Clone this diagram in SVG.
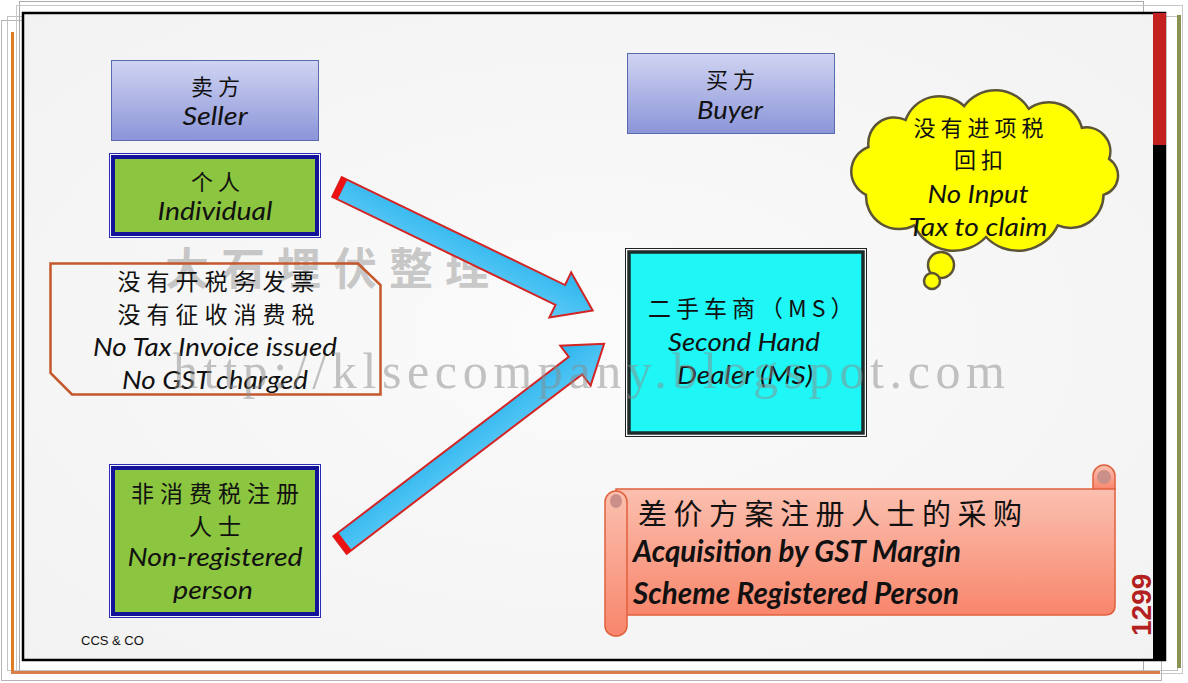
<svg xmlns="http://www.w3.org/2000/svg" width="1188" height="683" viewBox="0 0 1188 683">
<defs>
  <linearGradient id="gHead" x1="0" y1="0" x2="0" y2="1">
    <stop offset="0" stop-color="#d0d4f2"/>
    <stop offset="1" stop-color="#8b95d8"/>
  </linearGradient>
  <linearGradient id="gScroll" x1="0" y1="0" x2="0" y2="1">
    <stop offset="0" stop-color="#fbc0b0"/>
    <stop offset="1" stop-color="#f8866c"/>
  </linearGradient>
  <linearGradient id="gArrow" x1="0" y1="0" x2="0" y2="1">
    <stop offset="0" stop-color="#2cb4ee"/>
    <stop offset="1" stop-color="#5ecbf6"/>
  </linearGradient>
  <radialGradient id="gBg" cx="0.5" cy="0.5" r="0.7">
    <stop offset="0" stop-color="#fbfbfb"/>
    <stop offset="1" stop-color="#f2f2f2"/>
  </radialGradient>
  <style>
    .cjk { font-family: "Noto Sans CJK SC", sans-serif; fill: #111; letter-spacing: 5px; }
    .cjk6 { letter-spacing: 6px; }
    .cjk8 { letter-spacing: 6.5px; }
    .en { font-family: "Lato", "Liberation Sans", sans-serif; font-style: italic; fill: #111; font-size: 26px; }
    .big { font-size: 30px; font-weight: bold; }
    .mid { text-anchor: middle; }
    .head { fill: url(#gHead); stroke: #5a6ab0; stroke-width: 1; }
    .gOut { fill: none; stroke: #2a2ab8; stroke-width: 1; }
    .gIn { fill: #8cc53f; stroke: #12129a; stroke-width: 4; }
    .arrow { fill: url(#gArrow); stroke: #d42424; stroke-width: 2; stroke-linejoin: miter; }
    .cap { fill: #ee1111; }
    .roll { fill: url(#gScroll); stroke: #e0603c; stroke-width: 1.5; }
  </style>
</defs>

<!-- page frames -->
<rect x="0" y="0" width="1188" height="683" fill="#ffffff"/>
<rect x="1.5" y="20.5" width="1160" height="660" fill="none" stroke="#b4b4b4" stroke-width="1"/>
<rect x="7.5" y="16.5" width="1170" height="654" fill="none" stroke="#c2c2c2" stroke-width="1"/>
<rect x="19.5" y="1.5" width="1124" height="670" fill="none" stroke="#aaaaaa" stroke-width="1"/>
<rect x="16.5" y="5.5" width="1166" height="668" fill="none" stroke="#c8c8c8" stroke-width="1"/>
<line x1="12.5" y1="32" x2="12.5" y2="673" stroke="#e07b22" stroke-width="3"/>
<line x1="11" y1="672.5" x2="1160" y2="672.5" stroke="#d9804a" stroke-width="3"/>
<line x1="1179" y1="15" x2="1179" y2="668" stroke="#8a9152" stroke-width="4"/>
<rect x="23" y="13" width="1142" height="647" fill="url(#gBg)" stroke="#000" stroke-width="2.5"/>
<rect x="1153" y="13" width="13" height="647" fill="#000"/>
<rect x="1153" y="13" width="13" height="132" fill="#c4201f"/>

<!-- watermark (Chinese) -->
<text x="165" y="285" font-family="Noto Sans CJK SC, sans-serif" font-size="44" letter-spacing="12" fill="#8a8a8a" fill-opacity="0.45" font-weight="bold">大石埋伏整理</text>

<!-- connectors -->
<g id="connectors">
  <g transform="translate(337,187) rotate(25.8)">
    <polygon class="arrow" points="0,-11 248,-11 248,-25 284,0 248,25 248,11 0,11"/>
    <rect class="cap" x="0" y="-11" width="6" height="22"/>
  </g>
  <g transform="translate(340,545) rotate(-37.3)">
    <polygon class="arrow" points="0,-11 296,-11 296,-25 332,0 296,25 296,11 0,11"/>
    <rect class="cap" x="0" y="-11" width="6" height="22"/>
  </g>
</g>

<!-- nodes -->
<g id="seller">
  <rect class="head" x="111.5" y="60.5" width="207" height="80"/>
  <text class="cjk mid" x="218" y="95" font-size="22">卖方</text>
  <text class="en mid" x="215" y="125" textLength="65" lengthAdjust="spacingAndGlyphs">Seller</text>
</g>

<g id="individual">
  <rect class="gOut" x="109.5" y="153.5" width="211" height="84"/>
  <rect class="gIn" x="113" y="157" width="204" height="77"/>
  <text class="cjk mid" x="218" y="190" font-size="22">个人</text>
  <text class="en mid" x="215" y="220" textLength="115" lengthAdjust="spacingAndGlyphs">Individual</text>
</g>

<g id="note">
  <path d="M50.5,263.5 H358 L380.5,285 V394.5 H72 L50.5,373 Z" fill="none" stroke="#c4582c" stroke-width="2.5"/>
  <text class="cjk cjk6 mid" x="219" y="290" font-size="23">没有开税务发票</text>
  <text class="cjk cjk6 mid" x="219" y="323" font-size="23">没有征收消费税</text>
  <text class="en mid" x="215" y="356" textLength="244" lengthAdjust="spacingAndGlyphs">No Tax Invoice issued</text>
  <text class="en mid" x="215" y="389" textLength="186" lengthAdjust="spacingAndGlyphs">No GST charged</text>
</g>

<g id="nonregistered">
  <rect class="gOut" x="109.5" y="464.5" width="211" height="153"/>
  <rect class="gIn" x="113" y="468" width="204" height="146"/>
  <text class="cjk cjk6 mid" x="218" y="502" font-size="23">非消费税注册</text>
  <text class="cjk cjk6 mid" x="218" y="535" font-size="23">人士</text>
  <text class="en mid" x="215" y="566" textLength="175" lengthAdjust="spacingAndGlyphs">Non-registered</text>
  <text class="en mid" x="213" y="599" textLength="80" lengthAdjust="spacingAndGlyphs">person</text>
</g>

<g id="buyer">
  <rect class="head" x="627.5" y="53.5" width="207" height="80"/>
  <text class="cjk mid" x="733" y="88" font-size="22">买方</text>
  <text class="en mid" x="730" y="119" textLength="66" lengthAdjust="spacingAndGlyphs">Buyer</text>
</g>

<g id="dealer">
  <rect x="625.5" y="248.5" width="241" height="188" fill="none" stroke="#222" stroke-width="1"/>
  <rect x="629" y="252" width="234" height="181" fill="#1ff6f6" stroke="#1d2b2b" stroke-width="3.5"/>
  <text class="cjk" x="648" y="317" font-size="23">二手车商（MS）</text>
  <text class="en mid" x="744" y="351" textLength="152" lengthAdjust="spacingAndGlyphs">Second Hand</text>
  <text class="en mid" x="745" y="384" textLength="136" lengthAdjust="spacingAndGlyphs">Dealer (MS)</text>
</g>

<g id="cloud">
  <path d="M868.5,147 A26,26 0 0 1 905.6,120 A36,36 0 0 1 964.2,106 A39,39 0 0 1 1028.8,108.8 A34,34 0 0 1 1081.8,127.8 A24,24 0 0 1 1109.1,159 A20,20 0 0 1 1103.5,194.9 A33,33 0 0 1 1057.8,225.4 A44,44 0 0 1 986,237 A44,44 0 0 1 914.2,225.4 A33,33 0 0 1 866,194.9 A26,26 0 0 1 868.5,147 Z" fill="#ffff00" stroke="#5c5436" stroke-width="2.5"/>
  <circle cx="941" cy="265" r="13" fill="#ffff00" stroke="#5c5436" stroke-width="2.5"/>
  <circle cx="932" cy="281" r="8" fill="#ffff00" stroke="#5c5436" stroke-width="2.5"/>
  <text class="cjk mid" x="981" y="136" font-size="22">没有进项税</text>
  <text class="cjk mid" x="981" y="168" font-size="22">回扣</text>
  <text class="en mid" x="978" y="203" textLength="101" lengthAdjust="spacingAndGlyphs">No Input</text>
  <text class="en mid" x="978" y="236" textLength="139" lengthAdjust="spacingAndGlyphs">Tax to claim</text>
</g>

<g id="scroll">
  <path class="roll" d="M1093,490 V476 A11,11 0 0 1 1115,476 V490"/>
  <circle cx="1104" cy="477" r="7" fill="#c98f88"/>
  <path class="roll" d="M616,489 H1115 V605 Q1115,615 1105,615 H616 Z"/>
  <path class="roll" d="M605,502 A11,11 0 0 1 627,502 V626 A11,10 0 0 1 605,626 Z"/>
  <ellipse cx="616" cy="501" rx="6" ry="7" fill="#c98f88"/>
  <text class="cjk cjk8" x="638" y="525" font-size="29">差价方案注册人士的采购</text>
  <text class="en big" x="633" y="562" textLength="328" lengthAdjust="spacingAndGlyphs">Acquisition by GST Margin</text>
  <text class="en big" x="633" y="604" textLength="326" lengthAdjust="spacingAndGlyphs">Scheme Registered Person</text>
</g>

<!-- watermark (URL) -->
<text x="173" y="388" font-family="Liberation Serif, serif" font-size="50" fill="#8a8a8a" fill-opacity="0.5" textLength="832" lengthAdjust="spacing">http://klsecompany.blogspot.com</text>

<text x="81" y="645" font-family="Liberation Sans, Arial, sans-serif" font-size="13" fill="#111">CCS &amp; CO</text>
<text transform="translate(1151,636) rotate(-90)" font-family="Liberation Sans, Arial, sans-serif" font-size="28" font-weight="bold" fill="#b32020">1299</text>
</svg>
